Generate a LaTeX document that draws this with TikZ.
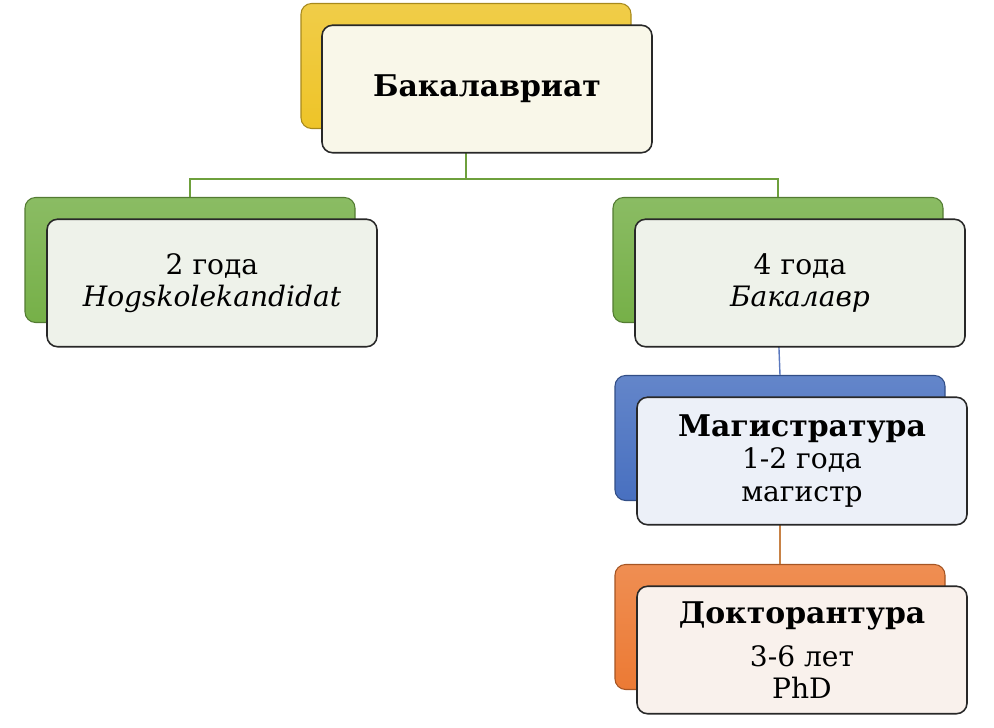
\documentclass[tikz,border=0pt]{standalone}
\usepackage{fontspec}
\setmainfont{DejaVu Serif}
\usepackage{tikz}
\usetikzlibrary{positioning,calc}
\usepackage{xcolor}

\definecolor{yelback}{RGB}{238,196,40}
\definecolor{yelfront}{RGB}{249,247,233}
\definecolor{grnback}{RGB}{118,176,72}
\definecolor{grnfront}{RGB}{238,242,234}
\definecolor{grnline}{RGB}{110,160,60}
\definecolor{bluback}{RGB}{72,112,192}
\definecolor{blufront}{RGB}{236,240,248}
\definecolor{bluline}{RGB}{90,120,190}
\definecolor{orgback}{RGB}{236,122,52}
\definecolor{orgfront}{RGB}{249,241,236}
\definecolor{orgline}{RGB}{200,130,70}
\definecolor{edgegrey}{RGB}{40,40,40}

\begin{document}
\begin{tikzpicture}[
        back/.style={rounded corners=6pt,minimum width=6.6cm,minimum height=2.5cm,
                     draw=#1!70!black,top color=#1!85!white,bottom color=#1,line width=0.6pt},
        front/.style={rounded corners=6pt,minimum width=6.6cm,minimum height=2.55cm,
                      draw=edgegrey,fill=#1,line width=0.9pt,align=center,
                      font=\fontsize{16}{18.5}\selectfont},
        link/.style={line width=0.8pt,color=#1}
    ]
        \useasboundingbox (0,0) rectangle (19.88,-14.56);

        % Back boxes
        \node[back=yelback] (bak) at (9.32,-1.32) {};
        \node[back=grnback] (hog) at (3.8,-5.2) {};
        \node[back=grnback] (bac) at (15.56,-5.2) {};
        \node[back=bluback] (mag) at (15.6,-8.76) {};
        \node[back=orgback] (dok) at (15.6,-12.54) {};

        % Connectors
        \draw[link=grnline] (bak.south) -- ++(0,-1) -| (hog.north);
        \draw[link=grnline] (bak.south) -- ++(0,-1) -| (bac.north);
        \draw[link=bluline] (bac.south) -- (mag.north);
        \draw[link=orgline] (mag.south) -- (dok.north);

        % Front boxes
        \node[front=yelfront] (bakF) at ($(bak.center)+(0.42,-0.46)$)
            {\fontsize{17}{20}\selectfont\textbf{Бакалавриат}};
        \node[front=grnfront] (hogF) at ($(hog.center)+(0.44,-0.46)$)
            {2 года\\\textit{Hogskolekandidat}};
        \node[front=grnfront] (bacF) at ($(bac.center)+(0.44,-0.46)$)
            {4 года\\\textit{Бакалавр}};
        \node[front=blufront] (magF) at ($(mag.center)+(0.44,-0.46)$)
            {\fontsize{17}{20}\selectfont\textbf{Магистратура}\\1-2 года\\магистр};
        \node[front=orgfront] (dokF) at ($(dok.center)+(0.44,-0.46)$)
            {\fontsize{17}{20}\selectfont\textbf{Докторантура}\\[6pt]3-6 лет\\PhD};
    \end{tikzpicture}
\end{document}
